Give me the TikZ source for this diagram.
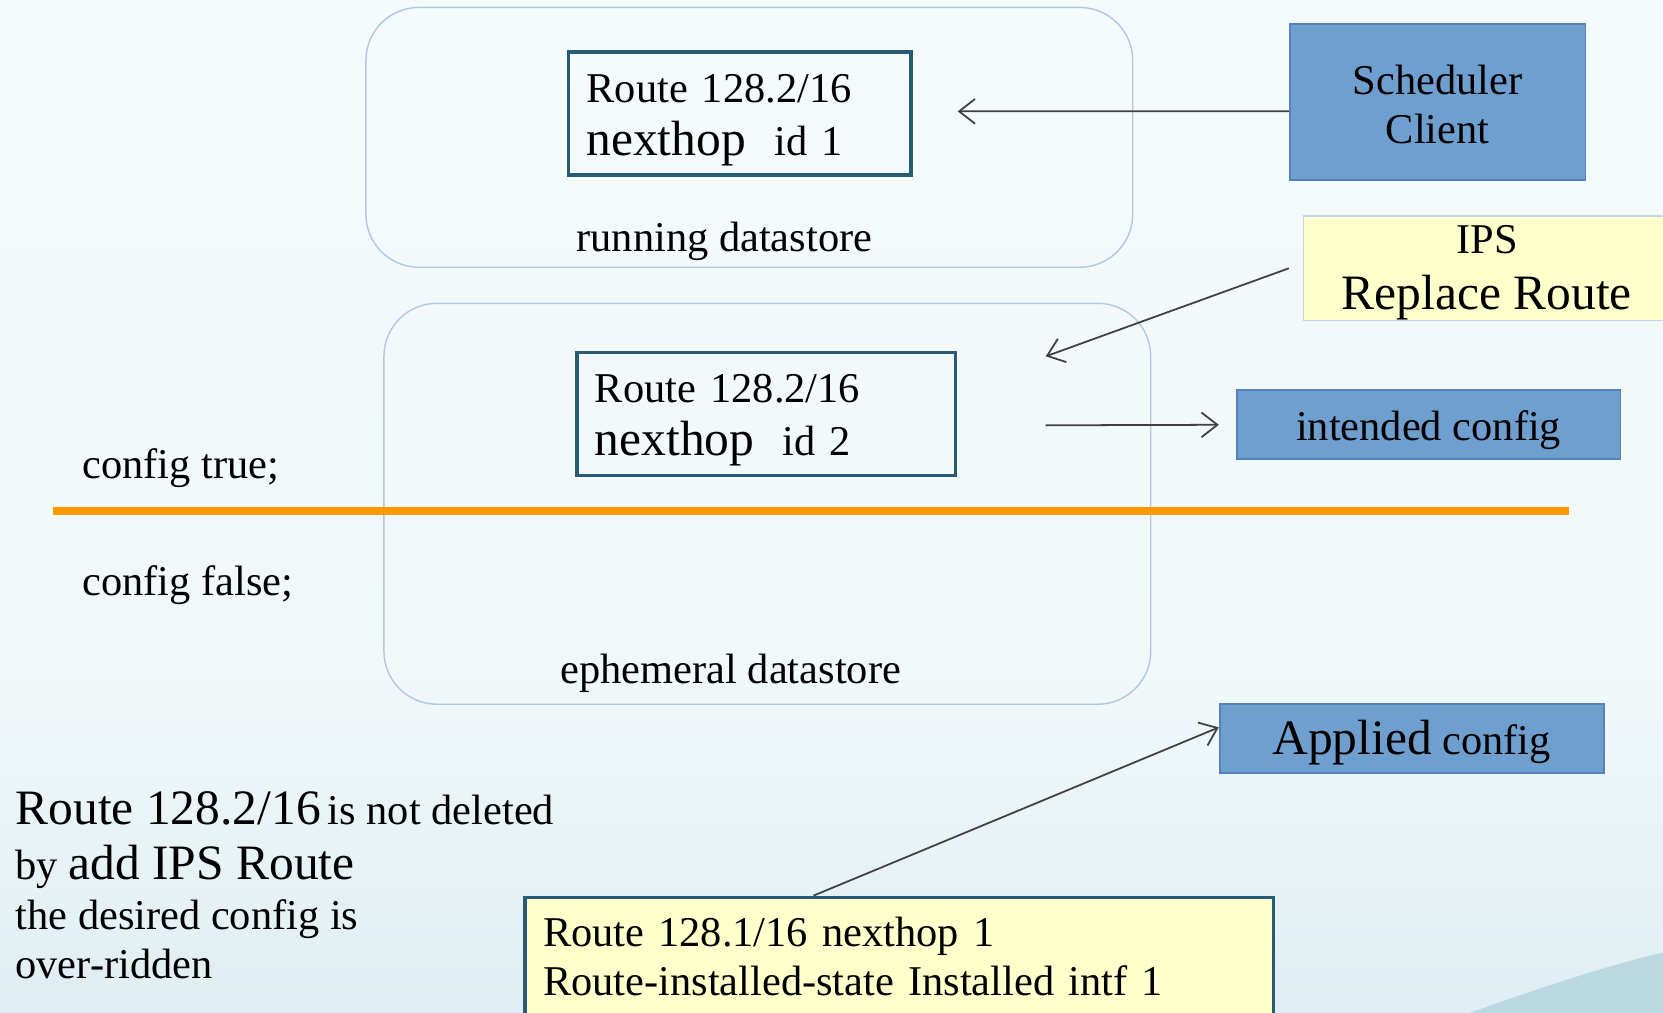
\documentclass[tikz,border=0pt]{standalone}
\usepackage{fontspec}
\setmainfont{Liberation Serif}
\usetikzlibrary{arrows.meta,positioning}
\definecolor{bgtop}{RGB}{248,252,253}
\definecolor{bgmid}{RGB}{241,248,250}
\definecolor{bglow}{RGB}{216,234,240}
\definecolor{bgbot}{RGB}{182,216,227}
\definecolor{bgswoosh}{RGB}{140,190,206}
\definecolor{storeline}{RGB}{176,200,226}
\definecolor{routeline}{RGB}{40,92,116}
\definecolor{bluefill}{RGB}{111,159,207}
\definecolor{blueline}{RGB}{84,130,190}
\definecolor{notefill}{RGB}{255,255,204}
\definecolor{noteline}{RGB}{196,212,230}
\definecolor{cfgline}{RGB}{255,153,0}
\definecolor{arrowgray}{RGB}{64,64,64}
\pgfdeclareverticalshading{slidebg}{100bp}{color(0bp)=(bgbot); color(18bp)=(bglow); color(42bp)=(bgmid); color(100bp)=(bgtop)}
\newcommand{\upsize}{\fontsize{14}{15}\selectfont}
\newcommand{\topstrut}{\rule{0pt}{11.5pt}}

\begin{document}
\begin{tikzpicture}[x=0.3pt,y=-0.3pt,
    every node/.style={font=\fontsize{12}{15}\selectfont},
    store/.style={draw=storeline, line width=0.4pt, rounded corners=15pt, minimum width=216.9pt},
    routebox/.style={draw=routeline, line width=0.9pt, align=left, inner xsep=5.1pt, inner ysep=2.6pt},
    bluebox/.style={draw=blueline, fill=bluefill, line width=0.5pt, align=center, minimum width=108.6pt, minimum height=19.5pt},
    oneline/.style={text height=9pt, text depth=0pt},
    notebox/.style={fill=notefill, align=center},
    plaintext/.style={inner sep=0pt, align=left},
    conn/.style={draw=arrowgray, line width=0.5pt, -{Straight Barb[length=4.5pt,width=7pt]}}]
    \useasboundingbox (0,0) rectangle (1568,955);
    \shade[shading=slidebg] (0,0) rectangle (1568,955);
    \fill[bgswoosh, opacity=0.45] (1386,955) .. controls (1450,932) and (1510,912) .. (1568,898) -- (1568,955) -- cycle;
    \clip (0,0) rectangle (1568,955);

    % datastores
    \node[store, minimum height=73.5pt] (running) at (706.5,129.5) {};
    \node[store, minimum height=113.4pt] (ephemeral) at (723.5,475) {};
    \node (runlabel) at (683,228) {running datastore};
    \node (ephlabel) at (689,635) {ephemeral datastore};

    % routes in the datastores
    \node[routebox, text width=86.7pt, minimum height=34.8pt] (route1) at (697.5,107)
        {\topstrut Route 128.2/16\\{\upsize nexthop}\ \ id 1};
    \node[routebox, text width=96.9pt, minimum height=34.5pt] (route2) at (722.5,390.5)
        {\topstrut Route 128.2/16\\{\upsize nexthop}\ \ id 2};

    % clients and config boxes
    \node[bluebox, minimum width=83.7pt, minimum height=44.1pt, font=\fontsize{12}{14}\selectfont] (sched) at (1355.5,96.5) {\rule{0pt}{9.5pt}Scheduler\\Client};
    \node[notebox, draw=noteline, line width=0.5pt, inner ysep=0pt, minimum width=103.8pt, minimum height=29.4pt] (ips) at (1402,253) {\rule{0pt}{10.5pt}IPS\\[1pt]{\upsize Replace Route}};
    \node[bluebox, oneline] (intended) at (1347,400.5) {intended config};
    \node[bluebox, oneline] (applied) at (1331,696.5) {{\upsize Applied} config};
    \node[notebox, draw=routeline, line width=0.9pt, align=left, inner xsep=5.1pt, text width=201.6pt, minimum height=33.6pt, font=\fontsize{12}{14}\selectfont] (inst) at (848,902)
        {Route 128.1/16 nexthop 1\\Route-installed-state Installed intf 1};

    % config true / false
    \draw[cfgline, line width=2.2pt] (50,482) -- (1479,482);
    \node[anchor=west, inner sep=0pt] (cfgtrue) at (77,441) {config true;};
    \node[anchor=west, inner sep=0pt] (cfgfalse) at (77,552) {config false;};

    \node[plaintext, anchor=north west, font=\fontsize{12}{14}\selectfont] (remark) at (14,746)
        {{\upsize Route 128.2/16}\,is not deleted\\[1.6pt]by {\upsize add IPS Route}\\the desired config is\\over-ridden};

    % arrows
    \coordinate (route1in) at (903,105);
    \coordinate (route2in) at (986,336);
    \coordinate (route2out) at (986,401);
    \draw[conn] ([yshift=-2.5pt]sched.west) -- (route1in);
    \draw[conn] ([xshift=-3.9pt]ips.west) -- (route2in);
    \draw[conn, shorten >=4.8pt] (route2out) -- (intended.west);
    \draw[conn] ([xshift=-24.3pt]inst.north) -- ([yshift=3.2pt]applied.west);
\end{tikzpicture}
\end{document}
